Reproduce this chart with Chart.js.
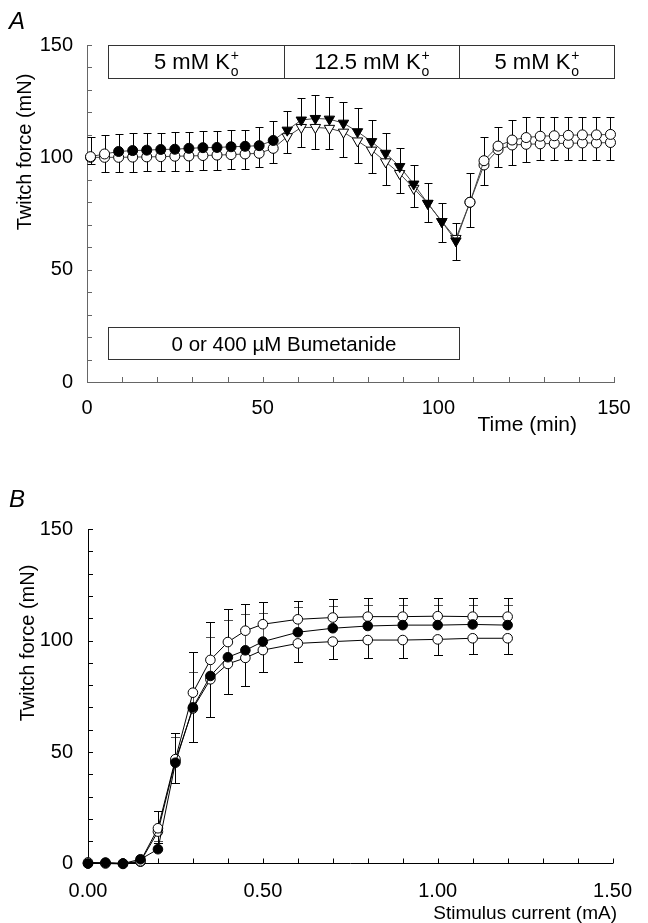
<!DOCTYPE html>
<html>
<head>
<meta charset="utf-8">
<script src="https://cdn.jsdelivr.net/npm/chart.js@4.4.0/dist/chart.umd.min.js"></script>
<style>
  html, body { margin:0; padding:0; background:#fff; }
  .panel { position:absolute; left:0; width:648px; }
  #panelA { top:0; height:445px; }
  #panelB { top:450px; height:473px; }
</style>
</head>
<body>
<div class="panel" id="panelA"><canvas id="chartA" width="648" height="445"></canvas></div>
<div class="panel" id="panelB"><canvas id="chartB" width="648" height="473"></canvas></div>
<script>
// ---- Panel A: twitch force vs time ----
const timeA = [1, 5, 9, 13, 17, 21, 25, 29, 33, 37, 41, 45, 49, 53,
               57, 61, 65, 69, 73, 77, 81, 85, 89, 93, 97, 101, 105,
               109, 113, 117, 121, 125, 129, 133, 137, 141, 145, 149];
// 400 uM bumetanide (upper series, SEM drawn upwards)
const bumetA = [100.3, 101.5, 102.6, 103.0, 103.2, 103.5, 103.6, 104.0, 104.3, 104.4, 104.7, 104.9, 105.2, 107.5,
                112.1, 116.6, 117.3, 117.0, 115.2, 111.4, 107.0, 101.8, 95.9, 88.1, 79.5, 71.4, 62.8,
                80.0, 98.5, 105.0, 107.7, 108.8, 109.4, 109.6, 109.8, 110.0, 110.0, 110.2];
const bumetErrA = [8.9, 8.4, 7.8, 7.7, 7.7, 7.5, 7.6, 7.4, 7.3, 7.4, 7.3, 7.3, 8.1, 8.8,
                   8.5, 9.9, 10.4, 10.0, 9.6, 10.4, 9.6, 8.9, 8.1, 8.4, 8.9, 8.1, 8.1,
                   12.9, 10.7, 8.3, 8.9, 9.0, 8.4, 8.3, 8.0, 7.8, 7.8, 7.6];
// 0 uM bumetanide (lower series, SEM drawn downwards)
const controlA = [100.0, 100.0, 100.0, 100.1, 100.2, 100.3, 100.5, 100.6, 100.8, 101.0, 101.2, 101.5, 101.8, 104.0,
                  109.2, 113.3, 113.3, 112.9, 111.2, 107.3, 103.2, 98.0, 92.8, 86.2, 79.5, 71.4, 63.9,
                  80.0, 96.6, 103.4, 105.5, 105.8, 106.0, 106.2, 106.2, 106.4, 106.4, 106.6];
const controlErrA = [3.0, 6.4, 6.4, 6.5, 6.4, 6.5, 6.5, 6.6, 6.6, 6.6, 6.6, 6.7, 6.0, 6.7,
                     7.1, 8.9, 9.8, 9.4, 10.9, 10.0, 10.3, 10.3, 8.8, 8.2, 8.1, 8.9, 9.6,
                     10.9, 8.9, 7.6, 8.9, 7.8, 7.2, 7.4, 7.4, 7.6, 7.6, 7.8];
const solutionEdges = [6, 56, 106, 150];        // min
const solutionLabels = ['5 mM K', '12.5 mM K', '5 mM K'];
const bumetPeriod = [6, 106];                   // min
const bumetLabel = '0 or 400 µM Bumetanide';

// ---- Panel B: twitch force vs stimulus current ----
const currentB = [0, 0.05, 0.10, 0.15, 0.20, 0.25, 0.30, 0.35, 0.40, 0.45, 0.50, 0.60, 0.70, 0.80, 0.90, 1.00, 1.10, 1.20];
const upperB   = [0.5, 0.3, 0.0, 1.0, 15.8, 46.8, 76.6, 91.3, 99.3, 104.4, 107.3, 109.5, 110.3, 110.7, 110.7, 110.9, 110.7, 110.7];
const upperErrB = [0.5, 0.5, 0.5, 1.0, 7.7, 11.9, 18.4, 17.1, 14.8, 12.0, 10.1, 8.4, 8.2, 8.2, 8.2, 8.0, 8.2, 8.2];
const filledB  = [0.0, 0.4, 0.0, 1.9, 6.4, 45.2, 70.0, 84.1, 92.5, 95.6, 99.5, 103.7, 105.5, 106.5, 106.9, 106.9, 107.2, 106.9];
const filledErrB = [0.3, 0.3, 0.3, 1.0, 3.8, 11.7, 16.0, 17.4, 16.7, 16.1, 13.0, 11.2, 10.0, 9.4, 9.0, 9.0, 8.8, 9.0];
const lowerB   = [0.0, 0.0, -0.2, 0.8, 14.3, 46.0, 69.5, 82.6, 89.5, 92.2, 95.7, 98.7, 99.5, 100.2, 100.2, 100.5, 101.0, 101.0];
const lowerErrB = [0.3, 0.3, 0.3, 0.8, 5.0, 9.8, 14.9, 16.8, 13.6, 12.6, 9.7, 8.2, 7.8, 8.2, 8.0, 7.0, 7.0, 7.0];

const FONT = '"Liberation Sans", Arial, Helvetica, sans-serif';
const pts = (xs, ys) => xs.map((x, i) => ({ x, y: ys[i] }));

// SEM bars, drawn behind the markers
const errorBars = {
  id: 'errorBars',
  beforeDatasetsDraw(chart, args, o) {
    const { ctx, scales: { y } } = chart;
    chart.data.datasets.forEach((ds, i) => {
      const meta = chart.getDatasetMeta(i);
      ctx.save();
      ctx.strokeStyle = ds.errColor || '#000';
      ctx.lineWidth = 1;
      meta.data.forEach((pt, j) => {
        const v = ds.data[j].y;
        const ends = [];
        if (ds.errUp) ends.push(v + ds.errUp[j]);
        if (ds.errDown) ends.push(v - ds.errDown[j]);
        const px = Math.round(pt.x) + 0.5;
        ends.forEach(e => {
          const py = Math.round(y.getPixelForValue(e)) + 0.5;
          ctx.beginPath();
          ctx.moveTo(px, pt.y); ctx.lineTo(px, py);
          ctx.moveTo(px - o.cap, py); ctx.lineTo(px + o.cap, py);
          ctx.stroke();
        });
      });
      ctx.restore();
    });
  }
};

// tick marks pointing into the plot
const innerTicks = {
  id: 'innerTicks',
  beforeDatasetsDraw(chart, args, o) {
    const { ctx, chartArea: a, scales: { x, y } } = chart;
    ctx.save();
    ctx.strokeStyle = o.color; ctx.lineWidth = 1;
    ctx.beginPath();
    x.ticks.forEach(t => {
      const px = Math.round(x.getPixelForValue(t.value)) + 0.5;
      ctx.moveTo(px, a.bottom); ctx.lineTo(px, a.bottom - o.len);
    });
    y.ticks.forEach(t => {
      const py = Math.round(y.getPixelForValue(t.value)) + 0.5;
      ctx.moveTo(a.left, py); ctx.lineTo(a.left + o.len, py);
    });
    ctx.stroke();
    ctx.restore();
  }
};

// panel letter + axis titles
const decor = {
  id: 'decor',
  afterDraw(chart, args, o) {
    const ctx = chart.ctx;
    ctx.save();
    ctx.fillStyle = '#000';
    ctx.textBaseline = 'alphabetic';
    ctx.font = `italic 24px ${FONT}`;
    ctx.textAlign = 'left';
    ctx.fillText(o.letter, o.letterX, o.letterY);
    ctx.font = `${o.xTitleSize}px ${FONT}`;
    ctx.textAlign = 'right';
    ctx.fillText(o.xTitle, o.xTitleX, o.xTitleY);
    ctx.font = `20px ${FONT}`;
    ctx.translate(o.yTitleX, o.yTitleY);
    ctx.rotate(-Math.PI / 2);
    ctx.textAlign = 'center'; ctx.textBaseline = 'middle';
    ctx.fillText(o.yTitle, 0, 0);
    ctx.restore();
  }
};

function drawKLabel(ctx, txt, cx, base) {
  ctx.font = `22px ${FONT}`;
  const w1 = ctx.measureText(txt).width;
  ctx.font = `14px ${FONT}`;
  const w2 = Math.max(ctx.measureText('+').width, ctx.measureText('o').width);
  const x0 = cx - (w1 + w2 + 1) / 2;
  ctx.textAlign = 'left'; ctx.textBaseline = 'alphabetic';
  ctx.font = `22px ${FONT}`;
  ctx.fillText(txt, x0, base);
  ctx.font = `14px ${FONT}`;
  ctx.fillText('+', x0 + w1 + 1, base - 9);
  ctx.fillText('o', x0 + w1 + 1, base + 7);
}

// solution / drug bars of panel A
const solutionBoxes = {
  id: 'solutionBoxes',
  afterDatasetsDraw(chart) {
    const { ctx, scales: { x, y } } = chart;
    ctx.save();
    ctx.strokeStyle = '#333'; ctx.lineWidth = 1; ctx.fillStyle = '#000';
    const top = Math.round(y.getPixelForValue(150)) + 0.5;
    const bot = Math.round(y.getPixelForValue(135.3)) + 0.5;
    for (let i = 0; i < solutionLabels.length; i++) {
      const l = Math.round(x.getPixelForValue(solutionEdges[i])) + 0.5;
      const r = Math.round(x.getPixelForValue(solutionEdges[i + 1])) + 0.5;
      ctx.strokeRect(l, top, r - l, bot - top);
      drawKLabel(ctx, solutionLabels[i], (l + r) / 2, bot - 10);
    }
    const bl = Math.round(x.getPixelForValue(bumetPeriod[0])) + 0.5;
    const br = Math.round(x.getPixelForValue(bumetPeriod[1])) + 0.5;
    const bt = Math.round(y.getPixelForValue(24.5)) + 0.5;
    const bb = Math.round(y.getPixelForValue(10.2)) + 0.5;
    ctx.strokeRect(bl, bt, br - bl, bb - bt);
    ctx.font = `20.5px ${FONT}`;
    ctx.textAlign = 'center'; ctx.textBaseline = 'alphabetic';
    ctx.fillText(bumetLabel, (bl + br) / 2, bb - 9);
    ctx.restore();
  }
};

function axes(xOpts, yOpts, axisColor) {
  const base = {
    type: 'linear',
    grid: { display: true, drawOnChartArea: false, drawTicks: false },
    border: { display: true, color: axisColor, width: 1 },
    ticks: { color: '#000', font: { family: FONT, size: 20 }, autoSkip: false, maxRotation: 0 }
  };
  return {
    x: Object.assign({}, base, xOpts, { ticks: Object.assign({}, base.ticks, xOpts.ticks) }),
    y: Object.assign({}, base, yOpts, { ticks: Object.assign({}, base.ticks, yOpts.ticks) })
  };
}

const yLabel = v => (v % 50 === 0 ? String(v) : '');

// ---- chart A ----
const inHighK = t => t > solutionEdges[1] && t < solutionEdges[2];
const onBumet = t => t > bumetPeriod[0] && t < bumetPeriod[1];
const markerA = (filledFn) => ({
  pointStyle: timeA.map(t => inHighK(t) ? 'triangle' : 'circle'),
  rotation: timeA.map(t => inHighK(t) ? 180 : 0),
  pointRadius: timeA.map(t => inHighK(t) ? 6 : 5),
  pointBackgroundColor: timeA.map(t => filledFn(t) ? '#000' : '#fff'),
  pointBorderColor: '#000', pointBorderWidth: 1
});

new Chart(document.getElementById('chartA'), {
  type: 'line',
  data: {
    datasets: [
      Object.assign({ label: '400 µM Bumetanide', data: pts(timeA, bumetA), errUp: bumetErrA,
        borderColor: '#444', borderWidth: 1, clip: false }, markerA(onBumet)),
      Object.assign({ label: '0 µM Bumetanide', data: pts(timeA, controlA), errDown: controlErrA,
        borderColor: '#444', borderWidth: 1, clip: false }, markerA(() => false))
    ]
  },
  options: {
    responsive: false, animation: false,
    layout: { padding: { left: 0, right: 34, top: 45, bottom: 0 } },
    scales: axes(
      { min: 0, max: 150, ticks: { stepSize: 10, padding: 14, callback: yLabel },
        afterFit: s => { s.height = 63; } },
      { min: 0, max: 150, ticks: { stepSize: 10, padding: 14, callback: yLabel },
        afterFit: s => { s.width = 87; } },
      '#666'),
    plugins: {
      legend: { display: false }, tooltip: { enabled: false },
      errorBars: { cap: 4 },
      innerTicks: { len: 5, color: '#666' },
      decor: { letter: 'A', letterX: 9, letterY: 29,
               xTitle: 'Time (min)', xTitleSize: 21, xTitleX: 577, xTitleY: 431,
               yTitle: 'Twitch force (mN)', yTitleX: 25, yTitleY: 152 }
    }
  },
  plugins: [innerTicks, errorBars, solutionBoxes, decor]
});

// ---- chart B ----
const pointB = (fill) => ({ pointStyle: 'circle', pointRadius: 4.8, pointBackgroundColor: fill,
  pointBorderColor: '#000', pointBorderWidth: 1, borderColor: '#000', borderWidth: 1, clip: false });

new Chart(document.getElementById('chartB'), {
  type: 'line',
  data: {
    datasets: [
      Object.assign({ label: 'filled', data: pts(currentB, filledB), errUp: filledErrB, errColor: '#555' }, pointB('#000')),
      Object.assign({ label: 'upper', data: pts(currentB, upperB), errUp: upperErrB }, pointB('#fff')),
      Object.assign({ label: 'lower', data: pts(currentB, lowerB), errDown: lowerErrB }, pointB('#fff'))
    ]
  },
  options: {
    responsive: false, animation: false,
    layout: { padding: { left: 0, right: 31, top: 79, bottom: 0 } },
    scales: axes(
      { min: 0, max: 1.5, ticks: { stepSize: 0.1, padding: 16,
          callback: v => (Math.abs(v * 2 - Math.round(v * 2)) < 1e-6 ? v.toFixed(2) : '') },
        afterFit: s => { s.height = 59.5; } },
      { min: 0, max: 150, ticks: { stepSize: 10, padding: 15, callback: yLabel },
        afterFit: s => { s.width = 88; } },
      '#000'),
    plugins: {
      legend: { display: false }, tooltip: { enabled: false },
      errorBars: { cap: 4.5 },
      innerTicks: { len: 5, color: '#000' },
      decor: { letter: 'B', letterX: 9, letterY: 57,
               xTitle: 'Stimulus current (mA)', xTitleSize: 19, xTitleX: 617, xTitleY: 469,
               yTitle: 'Twitch force (mN)', yTitleX: 28, yTitleY: 193 }
    }
  },
  plugins: [innerTicks, errorBars, decor]
});
</script>
</body>
</html>
